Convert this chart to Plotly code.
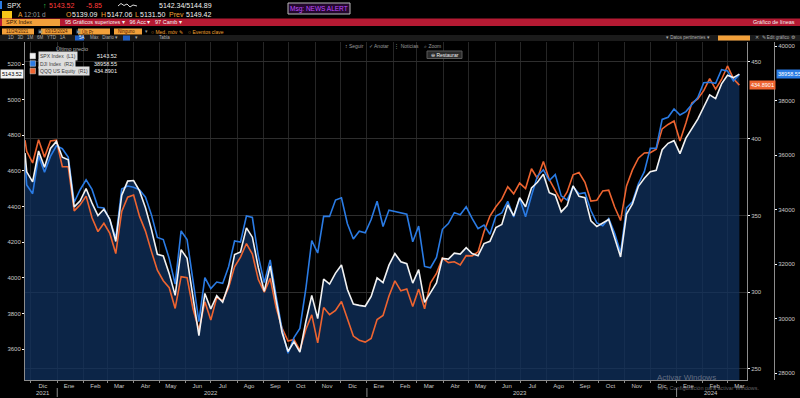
import plotly.graph_objects as go
import pandas as pd

# ---------------- data ----------------
first_date = ["2021-11-24"]
weekly_first = "2021-11-26"
weekly_last = "2024-03-15"

spx = [4701,
       4595, 4538, 4712, 4621, 4726, 4766,
       4677, 4663, 4398, 4432, 4501, 4419, 4349, 4385, 4329, 4204, 4463, 4543,
       4546, 4488, 4393, 4272, 4132, 4123, 4023, 3901, 4158, 4109, 3901, 3675, 3912,
       3825, 3899, 3863, 3962, 4130, 4145, 4280, 4228, 4058, 3924, 4067, 3873, 3693, 3586,
       3640, 3583, 3753, 3901, 3771, 3993, 3965, 4026, 4072, 3934, 3852, 3845, 3840,
       3895, 3999, 3973, 4071, 4136, 4090, 4079, 3970, 4046, 3862, 3917, 3971, 4109,
       4105, 4138, 4133, 4169, 4136, 4124, 4192, 4205, 4282, 4299, 4410, 4348, 4450,
       4399, 4505, 4536, 4582, 4478, 4464, 4370, 4406, 4516, 4457, 4450, 4320, 4288,
       4308, 4327, 4224, 4117, 4358, 4415, 4514, 4559, 4595, 4604, 4719, 4755, 4770,
       4697, 4784, 4840, 4891, 4959, 5027, 5006, 5089, 5137, 5124, 5143.52]

dji = [35804,
       34899, 34580, 35971, 35365, 35950, 36338,
       36231, 35912, 34265, 34725, 35089, 34738, 34079, 34059, 33615, 32944, 34755, 34861,
       34818, 34721, 34451, 33811, 32977, 32899, 32197, 31262, 33213, 32900, 31393, 29889, 31500,
       31097, 31338, 31288, 31899, 32845, 32803, 33761, 33706, 32283, 31318, 32151, 30822, 29590, 28725,
       29297, 29634, 31083, 32861, 32403, 33748, 33746, 34347, 34430, 33476, 32920, 33204, 33147,
       33631, 34303, 33375, 33978, 33926, 33869, 33827, 32817, 33391, 31910, 31862, 32238, 33274,
       33485, 33886, 33809, 34098, 33674, 33300, 33427, 33093, 33763, 33877, 34299, 33727, 34408,
       33734, 34509, 35228, 35459, 35066, 35281, 34500, 34346, 34838, 34577, 34618, 33964, 33508,
       33407, 33670, 33127, 32418, 34061, 34283, 34947, 35390, 36245, 36247, 37305, 37385, 37690,
       37466, 37593, 37863, 38109, 38654, 38671, 38628, 39131, 39087, 38723, 38958.55]

qqq = [399.0,
       391.8, 384.2, 399.3, 388.0, 398.5, 399.0,
       381.7, 381.7, 353.0, 357.0, 362.6, 348.5, 339.5, 344.9, 338.3, 325.2, 352.6, 361.9,
       363.3, 349.4, 339.8, 326.6, 314.3, 307.5, 302.9, 289.4, 310.1, 309.5, 289.2, 275.4, 293.7,
       281.9, 296.5, 294.4, 303.1, 316.6, 322.9, 331.7, 324.9, 308.2, 300.0, 309.0, 290.0, 276.6, 268.2,
       269.2, 262.2, 275.7, 285.2, 267.0, 290.0, 285.3, 288.1, 293.9, 282.4, 271.4, 268.7, 267.5,
       269.9, 282.2, 284.8, 297.5, 307.4, 300.9, 302.1, 290.7, 302.0, 289.2, 306.1, 312.2, 322.2,
       319.3, 319.8, 317.8, 323.8, 323.7, 326.2, 339.4, 349.6, 355.7, 360.6, 368.7, 364.1, 371.1,
       367.5, 380.4, 374.1, 385.1, 373.3, 366.7, 359.2, 365.3, 376.5, 378.0, 371.6, 359.4, 359.9,
       366.0, 366.5, 355.5, 346.7, 369.2, 379.7, 387.3, 390.7, 390.9, 393.2, 406.4, 409.3, 411.5,
       398.5, 410.3, 423.2, 425.9, 431.3, 439.1, 432.3, 438.6, 447.4, 439.1, 434.89]

series_names = ["SPX Index", "DJI Index", "QQQ US Equity"]
series_axes = ["(L1)", "(R2)", "(R1)"]
last_values = ["5143.52", "38958.55", "434.8901"]
last_spx, last_dji, last_qqq = 5143.52, 38958.55, 434.8901

month_labels = ["Dic", "Ene", "Feb", "Mar", "Abr", "May", "Jun", "Jul", "Ago", "Sep", "Oct", "Nov",
                "Dic", "Ene", "Feb", "Mar", "Abr", "May", "Jun", "Jul", "Ago", "Sep", "Oct", "Nov",
                "Dic", "Ene", "Feb", "Mar"]
year_labels = ["2021", "2022", "2023", "2024"]
year_label_dates = ["2021-12-15", "2022-07-01", "2023-07-01", "2024-02-10"]
year_starts = ["2022-01-01", "2023-01-01", "2024-01-01"]

spx_ticks = [3600, 3800, 4000, 4200, 4400, 4600, 4800, 5000, 5200]
qqq_ticks = [250, 300, 350, 400, 450]
dji_ticks = [28000, 30000, 32000, 34000, 36000, 38000, 40000]

# ---------------- geometry helpers ----------------
W, H = 800, 398
ML, MR, MT, MB = 25, 2, 42, 18
PW = W - ML - MR
PH = H - MT - MB
PLOT_RIGHT = 747
DJI_AXIS_X = 774


def PX(x):
    return (x - ML) / PW


def PY(y):
    return (H - MB - y) / PH


dates = pd.to_datetime(first_date).append(pd.date_range(weekly_first, weekly_last, freq="W-FRI"))
n = min(len(dates), len(spx), len(dji), len(qqq))
dates = dates[:n]
month_starts = pd.date_range("2021-12-01", "2024-03-01", freq="MS")
month_mids = month_starts + pd.Timedelta(days=14)

FONT = "Liberation Sans, Arial, sans-serif"
WHITE = "#f2f2f2"
BLUE = "#2a7be4"
ORANGE = "#ee6430"
AMBER = "#f0a030"
GRAY_TXT = "#c8c8c8"

fig = go.Figure()

# filled area of SPX
fig.add_trace(go.Scatter(x=dates, y=spx[:n], mode="lines", line=dict(width=0, color=WHITE),
                         fill="tozeroy", fillcolor="rgba(16,50,96,0.74)", yaxis="y",
                         hoverinfo="skip", showlegend=False))
# QQQ on right axis 1
fig.add_trace(go.Scatter(x=dates, y=qqq[:n], mode="lines", line=dict(width=1.6, color=ORANGE),
                         yaxis="y2", showlegend=False))
# DJI on right axis 2
fig.add_trace(go.Scatter(x=dates, y=dji[:n], mode="lines", line=dict(width=1.6, color=BLUE),
                         yaxis="y3", showlegend=False))
# SPX line on top
fig.add_trace(go.Scatter(x=dates, y=spx[:n], mode="lines", line=dict(width=1.6, color=WHITE),
                         yaxis="y4", showlegend=False))

spx_range = [3426, 5324]
tickfont = dict(family=FONT, size=6, color=GRAY_TXT)

fig.update_layout(
    width=W, height=H,
    margin=dict(l=ML, r=MR, t=MT, b=MB, pad=0),
    paper_bgcolor="#000000", plot_bgcolor="#000000",
    showlegend=False,
    font=dict(family=FONT, color=GRAY_TXT, size=6),
    xaxis=dict(type="date", range=["2021-11-24", "2024-03-24"],
               domain=[0, PX(PLOT_RIGHT)],
               tickmode="array", tickvals=month_mids, ticktext=month_labels,
               tickfont=tickfont, ticks="", showgrid=False, zeroline=False,
               showline=True, linecolor="#8c8c8c", linewidth=1,
               minor=dict(tickmode="array", tickvals=month_starts, showgrid=True,
                          gridcolor="#262626", gridwidth=1, ticks="outside", ticklen=2,
                          tickcolor="#8c8c8c")),
    yaxis=dict(range=spx_range, tickmode="array", tickvals=spx_ticks, tickformat="d",
               tickfont=tickfont, ticks="outside", ticklen=2, tickcolor="#ffffff",
               showgrid=False, zeroline=False, showline=True, linecolor="#8c8c8c",
               linewidth=1, side="left"),
    yaxis2=dict(range=[242.8, 463.0], overlaying="y", side="right", anchor="x",
                tickmode="array", tickvals=qqq_ticks, tickformat="d", tickfont=tickfont,
                ticks="outside", ticklen=2, tickcolor="#ffffff",
                showgrid=True, gridcolor="#2e2e2e", gridwidth=1, zeroline=False,
                showline=True, linecolor="#8c8c8c", linewidth=1),
    yaxis3=dict(range=[27743, 40147], overlaying="y", side="right", anchor="free",
                position=PX(DJI_AXIS_X), tickmode="array", tickvals=dji_ticks, tickformat="d",
                tickfont=tickfont, ticks="outside", ticklen=2, tickcolor="#ffffff",
                showgrid=False, zeroline=False, showline=True, linecolor="#8c8c8c",
                linewidth=1),
    yaxis4=dict(range=spx_range, overlaying="y", visible=False),
)

shapes = []
annotations = []


def rect(x0, y0, x1, y1, fill, line=None, lw=0):
    shapes.append(dict(type="rect", xref="paper", yref="paper",
                       x0=PX(x0), x1=PX(x1), y0=PY(y1), y1=PY(y0),
                       fillcolor=fill, line=dict(color=line or fill, width=lw),
                       layer="above"))


def text(x, y, s, color=GRAY_TXT, size=6, anchor="left", bg=None):
    d = dict(xref="paper", yref="paper", x=PX(x), y=PY(y), text=s, showarrow=False,
             xanchor=anchor, yanchor="middle", font=dict(family=FONT, size=size, color=color))
    if bg:
        d.update(bgcolor=bg, borderpad=1)
    annotations.append(d)


# ---- Row 1 ----
rect(0, 1, 2, 9, BLUE)
text(5, 5, "SPX", WHITE, 7)
text(41, 5, "↑", "#39d353", 7)
text(47, 5, "5143.52", "#ff3b3b", 7)
text(84, 5, "-5.85", "#ff3b3b", 7)
spark = [(118, 6), (121, 3.5), (124, 5.5), (127, 4), (130, 7), (133, 5), (137, 6)]
path = "M " + " L ".join(f"{PX(a):.5f},{PY(b):.5f}" for a, b in spark)
shapes.append(dict(type="path", xref="paper", yref="paper", path=path,
                   line=dict(color="#dddddd", width=1), layer="above"))
text(157, 5, "5142.34/5144.89", WHITE, 7)
rect(288, 3, 350, 14, "#24082e", "#b8b8b8", 1)
text(319, 8.5, "Msg: NEWS ALERT", "#c04cff", 6.5, anchor="center")

# ---- Row 2 ----
rect(2, 11, 12, 19, "#f5c518")
text(16, 15, "A", AMBER, 6.5)
text(22, 15, "12:01 d", "#9a9a9a", 6.5)
text(64, 15, "O", AMBER, 7)
text(70, 15, "5139.09", WHITE, 7)
text(99, 15, "H", AMBER, 7)
text(105, 15, "5147.06", WHITE, 7)
text(133, 15, "L", AMBER, 7)
text(138, 15, "5131.50", WHITE, 7)
text(167, 15, "Prev", AMBER, 7)
text(184, 15, "5149.42", WHITE, 7)

# ---- Row 3 (red function bar) ----
rect(0, 18.5, 800, 26, "#b51a33")
rect(2, 19, 60, 26, "#f2a03a")
text(4, 22.5, "SPX Index", "#2a1500", 5.5)
text(63, 22.5, "95 Gráficos superiores ▾   96 Acc ▾   97 Camb ▾", WHITE, 5.5)
text(797, 22.5, "Gráfico de líneas", WHITE, 5.5, anchor="right")

# ---- Row 4 (inputs) ----
for (a, b, s) in [(2, 34, "11/24/2021"), (41, 72, "03/15/2024"), (78, 110, "Últ Pr"),
                  (114, 142, "Ninguno")]:
    rect(a, 28.5, b, 34.5, "#f2a03a")
    text(a + 2, 31.5, s, "#4a1a00", 4.5)
text(35.5, 31.5, "▣", "#9a9a9a", 4.5)
text(73.5, 31.5, "▣", "#9a9a9a", 4.5)
text(143, 31.5, "▾", "#9a9a9a", 4.5)
text(149, 31.5, "○ Med. móv ✎", AMBER, 5)
text(186, 31.5, "○ Eventos clave", AMBER, 5)

# ---- Row 5 (period strip) ----
rect(0, 35, 800, 41, "#1b1b1b")
rect(75, 35.5, 84, 40.5, "#1f5fc4")
rect(123, 35.5, 130, 40.5, "#1f5fc4")
text(6, 38, "1D   3D   1M   6M   YTD   1A", "#b0b0b0", 4.5)
text(77, 38, "5A", WHITE, 4.5)
text(88, 38, "Máx   Diario ▾", "#b0b0b0", 4.5)
text(133, 38, "▾", "#b0b0b0", 4.5)
text(157, 38, "Tabla", "#b0b0b0", 4.5)
text(712, 38, "▾ Datos pertinentes ▾", "#b0b0b0", 4.5, anchor="right")
rect(718, 35.5, 750, 40.5, "#f2a03a")
text(753, 38, "✕  ✎ Edit gráfico ⚙", "#b0b0b0", 4.5)

# ---- plot toolbar ----
text(343, 45.5, "↕ Seguir    ✓ Anotar    ⋮ Noticias    ⌕ Zoom", "#9a9a9a", 5)
rect(427, 51, 462, 58.5, "#2b2b2b", "#5a5a5a", 1)
text(444.5, 54.8, "⊖ Restaurar", WHITE, 5, anchor="center")

# ---- legend block ----
text(72, 48.5, "Último precio", "#b0b0b0", 5.5, anchor="center")
legend_rows = [56, 63.5, 71]
legend_colors = [WHITE, BLUE, ORANGE]
for yy, col, name, ax, val in zip(legend_rows, legend_colors, series_names, series_axes, last_values):
    rect(30, yy - 2.8, 35.5, yy + 2.8, col, "#dddddd", 0.5)
    text(37.5, yy, name + "  " + ax, "#3c3c3c", 5, bg="#dedede")
    text(119, yy, val, WHITE, 5.5, anchor="right")

# ---- last-value tags on the axes ----
annotations.append(dict(xref="paper", yref="y", x=PX(23.5), y=last_spx, text="5143.52",
                        showarrow=False, xanchor="right", yanchor="middle", bgcolor="#f4f4f4",
                        borderpad=1, font=dict(family=FONT, size=5.5, color="#000000")))
annotations.append(dict(xref="paper", yref="y2", x=PX(749), y=last_qqq, text="434.8901",
                        showarrow=False, xanchor="left", yanchor="middle", bgcolor=ORANGE,
                        borderpad=1, font=dict(family=FONT, size=5.5, color="#ffffff")))
annotations.append(dict(xref="paper", yref="y3", x=PX(776), y=last_dji, text="38958.55",
                        showarrow=False, xanchor="left", yanchor="middle", bgcolor=BLUE,
                        borderpad=1, font=dict(family=FONT, size=5.5, color="#ffffff")))

# ---- year labels and separators ----
for lab, d in zip(year_labels, year_label_dates):
    annotations.append(dict(xref="x", yref="paper", x=d, y=PY(392.5), text=lab, showarrow=False,
                            xanchor="center", yanchor="middle",
                            font=dict(family=FONT, size=6, color=GRAY_TXT)))
for d in year_starts:
    shapes.append(dict(type="line", xref="x", yref="paper", x0=d, x1=d, y0=PY(388), y1=PY(397),
                       line=dict(color="#8c8c8c", width=1)))

# ---- OS watermark (semi-transparent, as in the screenshot) ----
text(655, 377.5, "Activar Windows", "rgba(160,160,170,0.6)", 8)
text(655, 388, "Ve a Configuración para activar Windows.", "rgba(160,160,170,0.6)", 5.5)

fig.update_layout(shapes=shapes, annotations=annotations)
fig.write_html("out.html",
               config={"displayModeBar": False},
               post_script="document.body.style.margin='0';document.body.style.overflow='hidden';"
                           "document.body.style.background='#000';")
